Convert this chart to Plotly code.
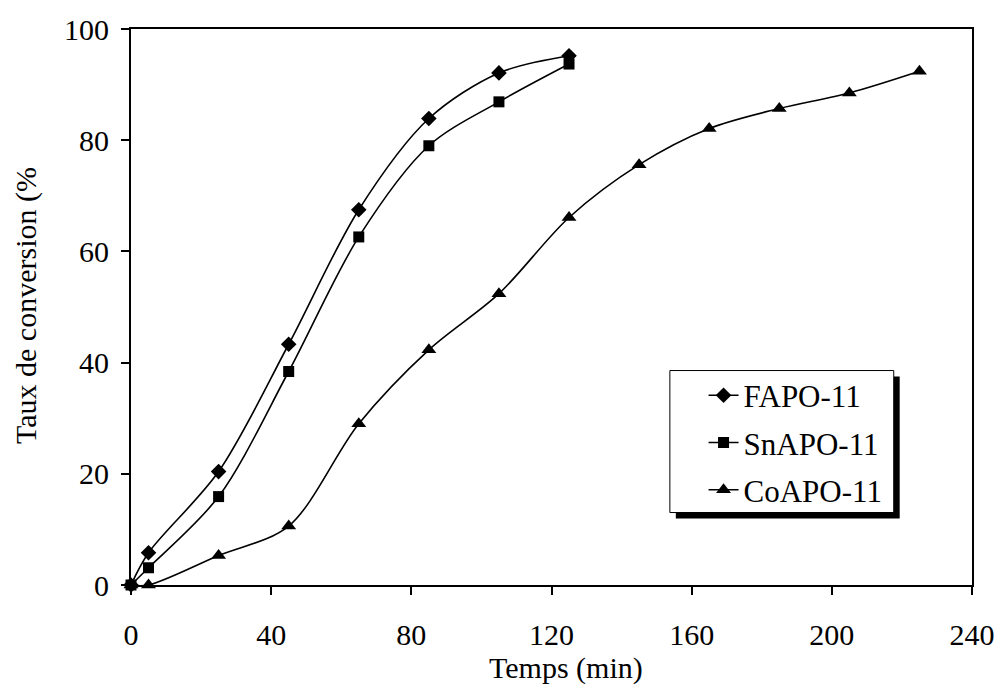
import plotly.graph_objects as go

time_min = [0, 5, 25, 45, 65, 85, 105, 125]
fapo = [0, 5.8, 20.4, 43.3, 67.5, 83.9, 92.1, 95.2]
snapo = [0, 3.1, 15.9, 38.4, 62.6, 79.0, 86.9, 93.7]
time_co = [0, 5, 25, 45, 65, 85, 105, 125, 145, 165, 185, 205, 225]
coapo = [0, 0, 5.3, 10.6, 29.0, 42.3, 52.4, 66.1, 75.6, 82.1, 85.7, 88.5, 92.4]

x_ticks = [0, 40, 80, 120, 160, 200, 240]
y_ticks = [0, 20, 40, 60, 80, 100]

FONT = "Liberation Serif, Times New Roman, serif"
FS = 30
W, H = 1007, 686
L, R, T, B = 131, 27, 25, 101

fig = go.Figure()
series = [
    ("FAPO-11", time_min, fapo, "diamond", 12),
    ("SnAPO-11", time_min, snapo, "square", 11),
    ("CoAPO-11", time_co, coapo, "triangle-up", 13),
]
for i, (name, xs, ys, sym, sz) in enumerate(series):
    fig.add_trace(go.Scatter(
        x=xs, y=ys, name=name, mode="lines+markers",
        line=dict(color="black", width=1.6, shape="spline", smoothing=0.9),
        marker=dict(symbol=sym, size=sz, color="black"),
        cliponaxis=False, legendgroup=f"g{i}",
    ))

pw = W - L - R
ph = H - T - B
def px_x(p):
    return (p - L) / pw
def px_y(p):
    return (H - B - p) / ph

# legend shadow and framed box
fig.add_shape(type="rect", xref="paper", yref="paper",
              x0=px_x(681), x1=px_x(907), y0=px_y(518), y1=px_y(375),
              fillcolor="black", line=dict(width=0), layer="above")
fig.add_shape(type="rect", xref="paper", yref="paper",
              x0=px_x(675), x1=px_x(901), y0=px_y(512), y1=px_y(369),
              fillcolor="white", line=dict(color="black", width=1), layer="above")

fig.update_layout(
    width=W, height=H,
    margin=dict(l=L, r=R, t=T, b=B),
    paper_bgcolor="white", plot_bgcolor="white",
    font=dict(family=FONT, size=FS, color="black"),
    showlegend=True,
    legend=dict(
        x=px_x(709), y=px_y(367), xanchor="left", yanchor="top",
        bgcolor="rgba(0,0,0,0)", borderwidth=0,
        font=dict(family=FONT, size=31, color="black"),
        tracegroupgap=4, traceorder="grouped",
    ),
    xaxis=dict(
        range=[0, 240], tickvals=x_ticks, ticktext=[str(v) for v in x_ticks],
        showgrid=False, zeroline=False, showline=True, linecolor="black", linewidth=2,
        mirror=True, ticks="outside", ticklen=8, tickwidth=1.5, tickcolor="black",
        ticklabelstandoff=14,
        tickfont=dict(family=FONT, size=FS, color="black"),
    ),
    yaxis=dict(
        range=[0, 100], tickvals=y_ticks, ticktext=[str(v) for v in y_ticks],
        showgrid=False, zeroline=False, showline=True, linecolor="black", linewidth=2,
        mirror=True, ticks="outside", ticklen=8, tickwidth=1.5, tickcolor="black",
        ticklabelstandoff=6,
        tickfont=dict(family=FONT, size=FS, color="black"),
    ),
    annotations=[
        dict(text="Temps (min)", xref="paper", yref="paper",
             x=px_x(570), y=px_y(669), xanchor="center", yanchor="middle",
             showarrow=False, font=dict(family=FONT, size=FS, color="black")),
        dict(text="Taux de conversion (%", xref="paper", yref="paper",
             x=px_x(25), y=px_y(303), xanchor="center", yanchor="middle",
             textangle=-90, showarrow=False,
             font=dict(family=FONT, size=FS, color="black")),
    ],
)

fig.write_html(
    "out.html",
    config={"displayModeBar": False},
    post_script="document.body.style.margin='0';document.body.style.overflow='hidden';",
)
